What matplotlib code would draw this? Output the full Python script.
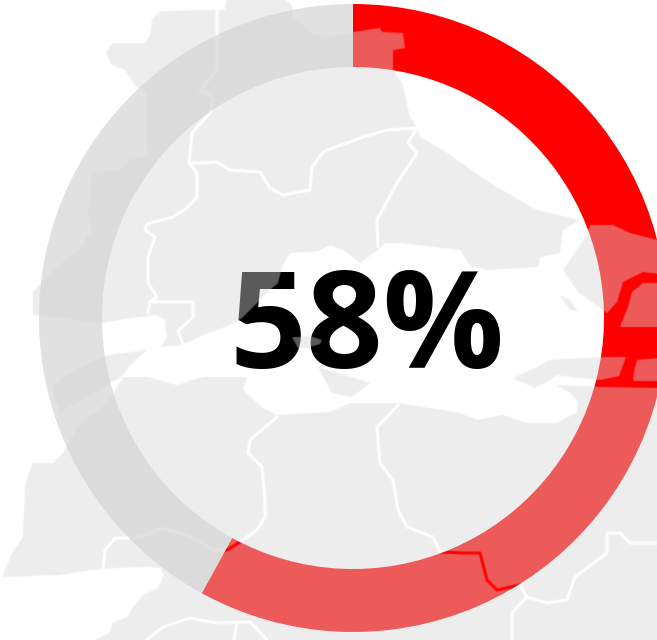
import numpy as np
import matplotlib
matplotlib.use("Agg")
import matplotlib.pyplot as plt
from matplotlib.figure import Figure
from matplotlib.backends.backend_agg import FigureCanvasAgg
from matplotlib.patches import Polygon

# ---- chart data ----
shares = [58, 42]
share_colors = ['#ff0000', '#e1e1e1']
label = '58%'

# ---- background map, traced outlines (image pixels) ----
land_north = [(227,-2),(225,10),(160,11),(152,20),(150,35),(145,43),(113,43),(106,52),(112,65),(125,70),
    (135,85),(146,92),(146,135),(148,155),(130,160),(120,170),(92,172),(88,215),(92,230),(80,248),(60,265),
    (45,280),(33,292),(33,315),(103,323),(130,318),(157,315),(165,320),(167,338),(160,347),(182,345),(203,335),
    (230,325),(242,318),(247,313),(257,303),(270,290),(278,283),(282,267),(290,253),(318,251),(330,245),(343,250),
    (360,263),(378,250),(385,243),(400,243),(460,250),(470,266),(487,270),(538,267),(540,257),(560,253),(563,230),
    (580,220),(537,210),(490,183),(443,150),(420,137),(417,127),(410,117),(402,83),(393,70),(393,50),(405,48),
    (403,33),(382,32),(380,28),(353,32),(330,37),(313,33),(300,23),(293,17),(292,5),(283,-2)]
land_south = [(2,577),(12,553),(23,537),(25,487),(30,470),(33,463),(53,463),(63,453),(70,440),(82,420),(100,410),
    (113,395),(123,377),(147,377),(177,385),(203,377),(247,377),(243,390),(263,408),(277,415),(330,412),(350,403),
    (397,403),(430,408),(460,413),(477,420),(503,415),(527,423),(557,423),(577,412),(578,402),(570,393),(556,385),
    (600,387),(660,388),(660,645),(95,645),(95,640),(110,633),(112,623),(127,617),(133,607),(143,595),(158,588),
    (164,575),(160,568),(147,567),(115,568),(90,570),(60,575)]
land_west_strip = [(53,387),(62,378),(90,363),(108,355),(133,352),(148,349),(138,358),(130,366),(120,378),
    (112,382),(97,392),(60,412),(55,400)]
land_northeast = [(590,225),(613,225),(630,233),(657,240),(660,240),(660,274),(643,272),(623,282),(617,302),
    (607,313),(578,292),(563,270),(580,245),(588,232)]
land_east_island = [(660,283),(643,283),(632,292),(628,307),(620,327),(660,327)]
land_east_strip = [(513,378),(535,368),(550,360),(603,357),(626,357),(619,376),(600,380),(570,377),(557,375),
    (545,383),(535,388)]
land_east_small = [(637,360),(660,358),(660,381),(633,381),(634,372)]
islet_centre = [(292,337),(313,337),(322,340),(320,344),(306,348),(298,348)]
islet_south = [(318,367),(345,375),(370,383),(352,397),(332,393)]
islet_east = [(560,295),(570,300),(578,312),(570,310)]
land_parts = [land_north, land_south, land_west_strip, land_northeast, land_east_island,
              land_east_strip, land_east_small, islet_centre, islet_south, islet_east]

border_a = [(217,-2),(217,70),(200,90),(213,98),(210,113),(192,133),(189,163),(197,173),(197,197),(187,208),
    (173,217),(147,224),(145,230),(155,237),(148,257),(148,283),(157,297),(150,302),(148,313)]
border_b = [(189,163),(202,163),(217,162),(230,170),(260,172),(270,188),(283,195),(310,190),(312,167),(323,152),
    (333,148),(363,137),(387,130),(417,128),(408,143),(417,153),(397,183),(377,220),(378,247)]
border_c = [(150,302),(193,302),(193,317),(178,331),(183,344)]
border_d = [(277,417),(250,440),(248,453),(262,467),(265,500),(265,517),(257,530),(240,542),(227,550),(213,550),
    (203,543),(187,535),(160,528),(147,535),(133,538),(115,538),(105,550),(103,570)]
border_e = [(398,405),(377,427),(380,463),(393,480),(398,510),(407,527),(433,537),(440,552),(463,553),(480,553),
    (487,580),(497,590),(520,585),(527,597),(547,603),(567,600),(575,577),(607,553),(607,533),(620,533),(630,543),(660,543)]
border_f = [(527,597),(512,613),(512,645)]
border_g = [(140,645),(163,627),(190,618),(217,623),(250,622),(267,640)]
border_h = [(237,623),(233,645)]
borders = [border_a, border_b, border_c, border_d, border_e, border_f, border_g, border_h]

W, H, DPI = 657, 640, 100

# map is a raster layer with real gaps between regions: build its coverage off screen
mfig = Figure(figsize=(W / DPI, H / DPI), dpi=DPI, facecolor='white')
canvas = FigureCanvasAgg(mfig)
max_ = mfig.add_axes([0, 0, 1, 1])
max_.set_xlim(0, W)
max_.set_ylim(H, 0)
max_.axis('off')
for part in land_parts:
    max_.add_patch(Polygon(part, closed=True, facecolor='black', edgecolor='none'))
for line in borders:
    xs, ys = zip(*line)
    max_.plot(xs, ys, color='white', lw=3.0 * 72 / DPI, solid_joinstyle='round')
canvas.draw()
cover = 1 - np.asarray(canvas.buffer_rgba())[:, :, 0] / 255.0
padded = np.pad(cover, 1, mode='edge')
cover = sum(padded[1 + dy:H + 1 + dy, 1 + dx:W + 1 + dx] * wt
            for dy, dx, wt in [(0, 0, .4), (1, 0, .15), (-1, 0, .15), (0, 1, .15), (0, -1, .15)])

overlay = np.zeros((H, W, 4))
overlay[:, :, :3] = 213 / 255
overlay[:, :, 3] = cover * 0.43

fig = plt.figure(figsize=(W / DPI, H / DPI), dpi=DPI, facecolor='white')
ax = fig.add_axes([0, 0, 1, 1])
ax.pie(shares, colors=share_colors, center=(353, H - 318), radius=314, startangle=90, counterclock=False,
       wedgeprops=dict(width=63, linewidth=0), frame=True)
ax.text(367, H - 368, label, ha='center', va='baseline', family=['Open Sans', 'DejaVu Sans'],
        fontweight='bold', fontsize=97, color='black', zorder=5)
ax.imshow(overlay, extent=(0, W, 0, H), origin='upper', interpolation='nearest', aspect='auto', zorder=10)
ax.set_xlim(0, W)
ax.set_ylim(0, H)
ax.axis('off')
fig.savefig('out.png', dpi=DPI, facecolor='white')
